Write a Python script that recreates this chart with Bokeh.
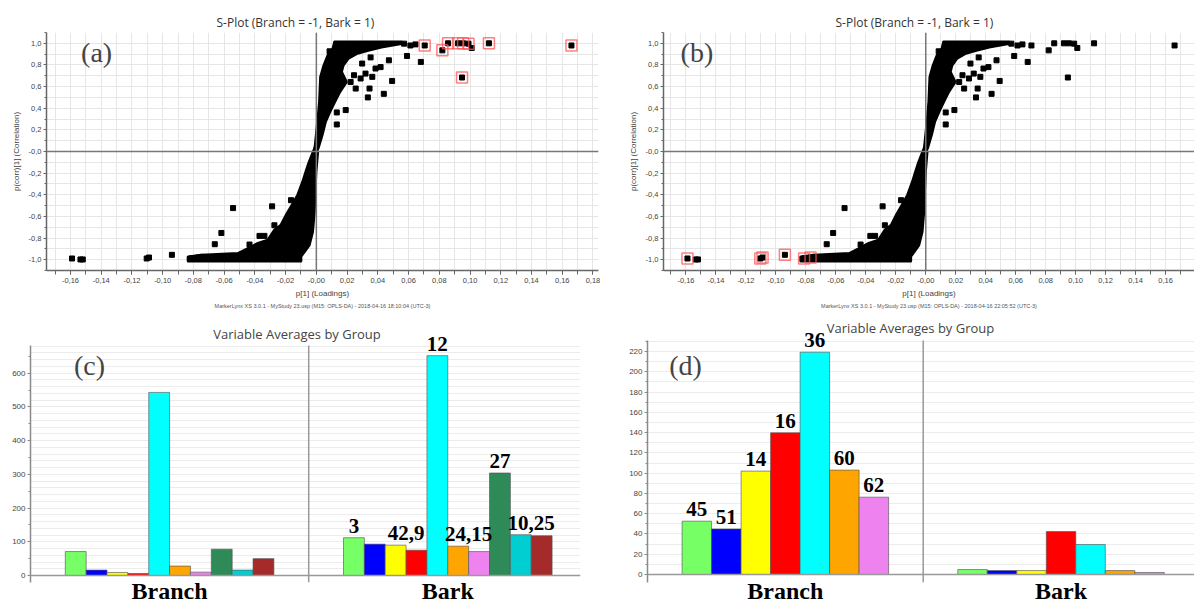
from bokeh.plotting import figure
from bokeh.layouts import column, row
from bokeh.models import (Range1d, Span, Label, LabelSet, ColumnDataSource, SingleIntervalTicker,
                          CustomJSTickFormatter, Title)
from bokeh.embed import file_html
from bokeh.resources import INLINE

# ---------------- S-plot data: p[1] (Loadings) vs p(corr)[1] (Correlation) ----------------
# envelope of the dense point cloud, positive (Bark) arm
cloud_pos_x = [-0.0011, 0.0, 0.0011, 0.0021, 0.0028, 0.005, 0.0076, 0.0109, 0.0119, 0.0554,
               0.0554, 0.0423, 0.0337, 0.0261, 0.0206, 0.0174, 0.0163, 0.0195, 0.0152, 0.0119,
               0.0087, 0.0059, 0.0037, 0.0011]
cloud_pos_y = [0.0, 0.152, 0.306, 0.459, 0.69, 0.797, 0.889, 0.951, 1.012, 1.012,
               0.997, 0.966, 0.935, 0.905, 0.859, 0.797, 0.735, 0.643, 0.551, 0.459,
               0.367, 0.275, 0.152, 0.029]
# envelope of the dense point cloud, negative (Branch) arm
cloud_neg_x = [-0.0003, 0.0008, -0.0003, -0.001, -0.0014, -0.0025, -0.0047, -0.0079, -0.0101,
               -0.0101, -0.0834, -0.0834, -0.0748, -0.051, -0.0445, -0.038, -0.0316, -0.0273,
               -0.023, -0.0197, -0.0165, -0.0122, -0.0089, -0.0068, -0.0047, -0.0025]
cloud_neg_y = [0.055, -0.006, -0.19, -0.406, -0.56, -0.744, -0.866, -0.928, -0.97,
               -1.012, -1.012, -0.974, -0.958, -0.943, -0.897, -0.85, -0.82, -0.728,
               -0.682, -0.59, -0.513, -0.406, -0.283, -0.19, -0.099, -0.021]
# isolated variables
pts_x = [0.0086, 0.0353, 0.0472, 0.059, 0.068, 0.0298, 0.0418, 0.0385, 0.0288, 0.0364,
         0.0493, 0.0256, 0.0346, 0.0439, 0.0335, 0.0191, 0.0133, 0.0133, 0.0223, 0.0245,
         0.032, 0.0571, 0.0612, 0.0645, 0.0705, 0.082, 0.0857, 0.0922, 0.0955, 0.099,
         0.1011, 0.1123, 0.166, 0.0948,
         -0.0542, -0.0288, -0.0618, -0.0661, -0.037, -0.0338, -0.0435, -0.0165, -0.0273,
         -0.159, -0.1535, -0.152, -0.1104, -0.1089, -0.094, -0.0812, -0.0769, -0.0743]
pts_y = [0.926, 0.87, 0.843, 0.883, 0.828, 0.813, 0.78, 0.767, 0.675, 0.69,
         0.652, 0.582, 0.582, 0.533, 0.5, 0.383, 0.361, 0.25, 0.643, 0.705,
         0.72, 0.997, 0.98, 0.99, 0.98, 0.935, 1.0, 1.0, 1.0, 0.997,
         0.957, 1.0, 0.98, 0.684,
         -0.523, -0.507, -0.753, -0.857, -0.78, -0.78, -0.86, -0.45, -0.682,
         -0.989, -0.998, -0.998, -0.989, -0.98, -0.955, -0.989, -0.98, -0.974]
# selected variables (red boxes)
sel_a_x = [0.0705, 0.082, 0.0857, 0.0922, 0.0955, 0.099, 0.1123, 0.166, 0.0948]
sel_a_y = [0.98, 0.935, 1.0, 1.0, 1.0, 0.997, 1.0, 0.98, 0.684]
sel_b_x = [-0.159, -0.1104, -0.1089, -0.094, -0.0812, -0.0769]
sel_b_y = [-0.989, -0.989, -0.98, -0.955, -0.989, -0.98]

splot_title = "S-Plot (Branch = -1, Bark = 1)"
stamp_a = "MarkerLynx XS 3.0.1 - MyStudy 23.usp (M15: OPLS-DA) - 2018-04-16 18:10:04 (UTC-3)"
stamp_b = "MarkerLynx XS 3.0.1 - MyStudy 23.usp (M15: OPLS-DA) - 2018-04-16 22:05:52 (UTC-3)"

# ---------------- Variable averages data ----------------
groups = ["Branch", "Bark"]
bar_colors = ["#77ff66", "#0000ff", "#ffff00", "#ff0000", "#00ffff",
              "#ffa500", "#ee82ee", "#2e8b57", "#00ced1", "#a52a2a"]
c_branch = [71, 16, 9, 6, 543, 28, 10, 78, 16, 50]
c_bark = [112, 93, 90, 75, 652, 87, 71, 304, 121, 118]
c_labels = ["3", "42,9", "12", "24,15", "27", "10,25"]
c_label_bars = [[0], [2, 3], [4], [5, 6], [7], [8, 9]]

d_branch = [52.6, 45, 102, 139.8, 219.3, 103, 76.3]
d_bark = [4.9, 3.9, 3.9, 42.4, 29.6, 3.9, 2.0]
d_labels = ["45", "51", "14", "16", "36", "60", "62"]

bar_title = "Variable Averages by Group"

X_FMT = """
const v = Math.round(tick * 100) / 100;
if (Math.abs(v) < 1e-9) { return "-0,00"; }
return v.toFixed(2).replace(".", ",");
"""
Y_FMT = """
const v = Math.round(tick * 10) / 10;
if (Math.abs(v) < 1e-9) { return "-0,0"; }
return v.toFixed(1).replace(".", ",");
"""


def splot(width, bl, br, xr, sel_x, sel_y, stamp, tag, tag_x, title_off):
    p = figure(width=width, height=312, x_range=Range1d(*xr), y_range=Range1d(-1.1, 1.1),
               output_backend="svg", toolbar_location=None,
               min_border_left=bl, min_border_right=br, min_border_top=32, min_border_bottom=42)
    p.outline_line_color = None
    p.title.text = splot_title
    p.title.align = "left"
    p.title.offset = title_off
    p.title.standoff = 4
    p.title.text_font = "Open Sans"
    p.title.text_font_size = "12px"
    p.title.text_font_style = "normal"
    p.title.text_color = "#333333"

    p.xaxis.ticker = SingleIntervalTicker(interval=0.02, num_minor_ticks=2)
    p.yaxis.ticker = SingleIntervalTicker(interval=0.2, num_minor_ticks=2)
    p.xgrid.ticker = SingleIntervalTicker(interval=0.01)
    p.ygrid.ticker = SingleIntervalTicker(interval=0.1)
    p.grid.grid_line_color = "#e6e6e6"
    p.grid.grid_line_width = 1
    p.xaxis.formatter = CustomJSTickFormatter(code=X_FMT)
    p.yaxis.formatter = CustomJSTickFormatter(code=Y_FMT)
    for ax in (p.xaxis, p.yaxis):
        ax.axis_line_color = "#666666"
        ax.axis_line_width = 1.5
        ax.major_tick_line_color = "#666666"
        ax.minor_tick_line_color = "#666666"
        ax.major_tick_in = 0
        ax.minor_tick_in = 0
        ax.major_label_text_font = "Liberation Sans"
        ax.major_label_text_font_size = "7.5px"
        ax.major_label_text_color = "#444444"
        ax.axis_label_text_font = "Liberation Sans"
        ax.axis_label_text_font_size = "8px"
        ax.axis_label_text_font_style = "normal"
        ax.axis_label_text_color = "#444444"
    p.xaxis.major_tick_out = 4
    p.xaxis.minor_tick_out = 4
    p.xaxis.major_label_standoff = 3
    p.xaxis.axis_label_standoff = 3
    p.yaxis.major_tick_out = 3
    p.yaxis.minor_tick_out = 2
    p.yaxis.major_label_standoff = 2
    p.yaxis.axis_label_standoff = 5
    p.xaxis.axis_label = "p[1] (Loadings)"
    p.yaxis.axis_label = "p(corr)[1] (Correlation)"

    p.add_layout(Span(location=0, dimension="height", line_color="#777777", line_width=1.5))
    p.add_layout(Span(location=0, dimension="width", line_color="#777777", line_width=1.5))

    p.patch(cloud_pos_x, cloud_pos_y, fill_color="black", line_color="black", line_width=3,
            line_join="round")
    p.patch(cloud_neg_x, cloud_neg_y, fill_color="black", line_color="black", line_width=3,
            line_join="round")
    p.scatter(pts_x, pts_y, marker="square", size=5, color="black")
    p.scatter(sel_x, sel_y, marker="square", size=11, fill_color=None,
              line_color="#ff5555", line_width=1.5, line_alpha=0.75)

    p.add_layout(Title(text=stamp, align="center", text_font="Liberation Sans",
                       text_font_size="5.5px", text_font_style="normal",
                       text_color="#555555", standoff=0), "below")
    p.add_layout(Label(x=tag_x, y=0.917, text=tag, text_font="Liberation Serif",
                       text_font_size="28px", text_align="center", text_baseline="middle"))
    return p


pa = splot(600, 46, 2, (-0.1756, 0.1836), sel_a_x, sel_a_y, stamp_a, "(a)", -0.143, 170)
pb = splot(594, 63, 0, (-0.175, 0.1793), sel_b_x, sel_b_y, stamp_b, "(b)", -0.1527, 172)


def barplot(width, bl, br, top_px, frame_w, slot_px, zero_px, ppu, bar_px, series,
            yint, grid_iv, axis_low, tag, tag_px, title_px, cat_px, labels, label_bars):
    # page-row geometry: the row starts at y=312 and ends at y=603; the frame fills it
    y_start = (zero_px - 603) / ppu
    y_end = (zero_px - 312) / ppu
    axis_top = (zero_px - top_px) / ppu
    x_end = frame_w / slot_px
    p = figure(width=width, height=291, x_range=Range1d(0, x_end), y_range=Range1d(y_start, y_end),
               output_backend="svg", toolbar_location=None, x_axis_location=None,
               min_border_left=bl, min_border_right=br, min_border_top=0,
               min_border_bottom=0)
    p.outline_line_color = None

    p.xgrid.visible = False
    p.ygrid.ticker = SingleIntervalTicker(interval=grid_iv)
    p.ygrid.grid_line_color = "#ececec"
    p.ygrid.bounds = (0, axis_top)
    p.yaxis.ticker = SingleIntervalTicker(interval=yint, num_minor_ticks=2)
    p.yaxis.bounds = (axis_low, axis_top)
    p.yaxis.axis_line_color = "#8a8a8a"
    p.yaxis.axis_line_width = 1.5
    p.yaxis.major_tick_line_color = "#8a8a8a"
    p.yaxis.minor_tick_line_color = "#8a8a8a"
    p.yaxis.major_tick_out = 3
    p.yaxis.major_tick_in = 0
    p.yaxis.minor_tick_out = 2
    p.yaxis.minor_tick_in = 0
    p.yaxis.major_label_standoff = 2
    p.yaxis.major_label_text_font = "Liberation Sans"
    p.yaxis.major_label_text_font_size = "8px"
    p.yaxis.major_label_text_color = "#444444"

    bw = bar_px / slot_px
    n = len(series[0])
    xs, tops, cols = [], [], []
    for g, vals in enumerate(series):
        for i, v in enumerate(vals):
            xs.append(g + 0.5 + (i - (n - 1) / 2) * bw)
            tops.append(v)
            cols.append(bar_colors[i])
    p.vbar(x=xs, top=tops, bottom=0, width=bw, fill_color=cols,
           line_color="#555555", line_width=0.8, line_alpha=0.8)

    p.add_layout(Span(location=0, dimension="width", line_color="#999999", line_width=1.5))
    p.segment(x0=[1], y0=[axis_low], x1=[1], y1=[axis_top], line_color="#999999", line_width=1.5)

    # chart title (drawn inside the frame so bar labels above the axis top are not clipped)
    p.add_layout(Label(x=(title_px[0] - bl) / slot_px, y=(zero_px - title_px[1]) / ppu,
                       text=bar_title, text_font="Open Sans", text_font_size="13px",
                       text_color="#444444", text_align="center", text_baseline="middle"))

    # value labels above bars (group index, bar indices)
    lx, ly = [], []
    for g, bars in label_bars:
        lx.append(sum(g + 0.5 + (i - (n - 1) / 2) * bw for i in bars) / len(bars))
        ly.append(max(series[g][i] for i in bars))
    src = ColumnDataSource(dict(x=lx, y=ly, t=labels))
    p.add_layout(LabelSet(x="x", y="y", text="t", source=src, text_font="Liberation Serif",
                          text_font_style="bold", text_font_size="21px", text_align="center",
                          text_baseline="middle", y_offset=12, text_color="black"))

    cy = (zero_px - cat_px) / ppu
    for gi, name in enumerate(groups):
        p.add_layout(Label(x=gi + 0.5, y=cy, text=name, text_font="Liberation Serif",
                           text_font_style="bold", text_font_size="24px", text_align="center",
                           text_baseline="middle", text_color="black"))

    tx = (tag_px[0] - bl) / slot_px
    ty = (zero_px - tag_px[1]) / ppu
    p.add_layout(Label(x=tx, y=ty, text=tag, text_font="Liberation Serif",
                       text_font_size="28px", text_align="center", text_baseline="middle"))
    return p


pc = barplot(600, 30, 20, 345, 550, 278.2, 575, 0.3372, 20.86, [c_branch, c_bark],
             100, 20, -20, "(c)", (89, 365), (296.5, 333), 590, c_labels,
             [(1, b) for b in c_label_bars])
pd_ = barplot(594, 47, 0, 340, 547, 275.7, 574, 1.0136, 29.5, [d_branch, d_bark],
              20, 10, -7.6, "(d)", (685 - 600, 365), (910 - 600, 327.5), 590, d_labels,
              [(0, [i]) for i in range(len(d_labels))])

layout = column(row(pa, pb), row(pc, pd_))
open("out.html", "w").write(file_html(layout, INLINE))
